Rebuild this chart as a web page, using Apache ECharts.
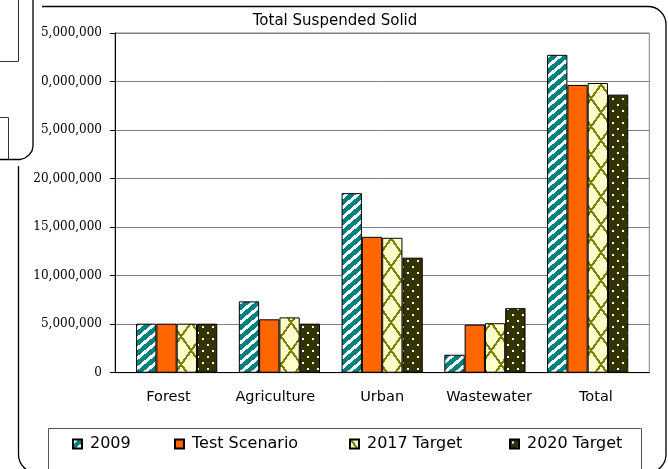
<!DOCTYPE html>
<html>
<head>
<meta charset="utf-8">
<script src="https://cdn.jsdelivr.net/npm/echarts@6/dist/echarts.min.js"></script>
<style>html,body{margin:0;padding:0;background:#fff;}#c{width:668px;height:469px;}</style>
</head>
<body>
<div id="c"></div>
<script>
const categories = ['Forest', 'Agriculture', 'Urban', 'Wastewater', 'Total'];
const seriesNames = ['2009', 'Test Scenario', '2017 Target', '2020 Target'];
const values2009 = [5050000, 7350000, 18500000, 1850000, 32750000];
const valuesTest = [5050000, 5500000, 14000000, 4950000, 29650000];
const values2017 = [5050000, 5700000, 13900000, 5100000, 29850000];
const values2020 = [5050000, 5050000, 11850000, 6650000, 28650000];
const yTicks = [0, 5000000, 10000000, 15000000, 20000000, 25000000, 30000000, 35000000];
const titleText = 'Total Suspended Solid';

function makePattern(w, h, bg, fg, fn) {
  const c = document.createElement('canvas');
  c.width = w; c.height = h;
  const ctx = c.getContext('2d');
  ctx.fillStyle = bg; ctx.fillRect(0, 0, w, h);
  ctx.fillStyle = fg;
  for (let y = 0; y < h; y++) for (let x = 0; x < w; x++) if (fn(x, y)) ctx.fillRect(x, y, 1, 1);
  return { image: c, repeat: 'repeat' };
}
const mod = (a, m) => ((a % m) + m) % m;
const pat2009 = makePattern(12, 10, '#008080', '#ffffff', (x, y) => mod(Math.floor(x * 10 / 12) + y, 10) < 4);
const pat2017 = makePattern(20, 28, '#FFFFCC', '#808000', (x, y) => {
  const a = mod(x - y * 20 / 28, 20), b = mod(x + y * 20 / 28, 20);
  return a < 2 || a > 19.3 || b < 2 || b > 19.3;
});
const pat2020 = makePattern(10, 12, '#333300', '#ffffff', (x, y) =>
  (x >= 2 && x < 4 && y >= 2 && y < 4) || (x >= 7 && x < 9 && y >= 8 && y < 10));
const fills = [pat2009, '#FF6600', pat2017, pat2020];
const data = [values2009, valuesTest, values2017, values2020];

const sans = 'DejaVu Sans';
const serif = 'DejaVu Serif';
const chart = echarts.init(document.getElementById('c'), null, { renderer: 'canvas' });

const legendLefts = [72, 174, 349, 509];
const option = {
  animation: false,
  backgroundColor: '#ffffff',
  title: {
    text: titleText, left: 335, top: 14, textAlign: 'center', padding: 0,
    textStyle: { fontFamily: sans, fontSize: 15, fontWeight: 'normal', color: '#000' }
  },
  legend: seriesNames.map((n, i) => ({
    data: [n], left: legendLefts[i], top: 436, padding: 0, itemWidth: 9, itemHeight: 9, icon: 'rect',
    textStyle: { fontFamily: sans, fontSize: 16, color: '#000', padding: [0, 0, 0, 3] }
  })),
  grid: [
    { left: 115, top: 33, width: 534.3, height: 339.7, show: true, borderColor: '#808080', borderWidth: 1, backgroundColor: 'transparent' },
    { left: 125.3, top: 33, width: 513.75, height: 339.7 }
  ],
  xAxis: [
    { type: 'category', gridIndex: 0, data: categories,
      axisLine: { lineStyle: { color: '#000', width: 1 } }, axisTick: { show: false },
      axisLabel: { interval: 0, hideOverlap: false, fontFamily: sans, fontSize: 14.5, color: '#000', margin: 17 } },
    { type: 'category', gridIndex: 1, data: categories, show: false }
  ],
  yAxis: [
    { type: 'value', gridIndex: 0, min: yTicks[0], max: yTicks[yTicks.length - 1], interval: yTicks[1] - yTicks[0],
      axisLine: { show: true, lineStyle: { color: '#000', width: 1 } },
      axisTick: { show: true, length: 5, lineStyle: { color: '#000' } },
      splitLine: { lineStyle: { color: '#808080', width: 1 } },
      axisLabel: { fontFamily: serif, fontSize: 12, color: '#000', margin: 13,
        formatter: v => v.toString().replace(/\B(?=(\d{3})+(?!\d))/g, ',') } },
    { type: 'value', gridIndex: 1, min: yTicks[0], max: yTicks[yTicks.length - 1], show: false, splitLine: { show: false } }
  ],
  series: seriesNames.map((n, i) => ({
    name: n, type: 'bar', xAxisIndex: 1, yAxisIndex: 1, data: data[i],
    barGap: '0%', barCategoryGap: '21%',
    itemStyle: { color: fills[i], borderColor: '#000', borderWidth: 1 }
  })),
  graphic: [
    { type: 'rect', z: 100, shape: { x: 18.5, y: 6.5, width: 647.5, height: 466, r: 18 },
      style: { fill: 'none', stroke: '#000', lineWidth: 1.3 } },
    { type: 'rect', z: 100, shape: { x: 48.5, y: 428.5, width: 593, height: 60 },
      style: { fill: 'none', stroke: '#555', lineWidth: 1 } },
    { type: 'rect', z: 101, shape: { x: 0, y: 0, width: 42, height: 166 },
      style: { fill: '#fff', stroke: 'none' } },
    { type: 'polyline', z: 102, shape: { points: [[33, 0], [33, 146], [32, 151], [29, 155], [25, 158], [20, 159.5], [0, 159.5]] },
      style: { stroke: '#000', lineWidth: 1.3, fill: 'none' } },
    { type: 'polyline', z: 102, shape: { points: [[18.5, 0], [18.5, 61.5], [0, 61.5]] },
      style: { stroke: '#333', lineWidth: 1, fill: 'none' } },
    { type: 'polyline', z: 102, shape: { points: [[0, 117.5], [8.5, 117.5], [8.5, 159.5]] },
      style: { stroke: '#333', lineWidth: 1, fill: 'none' } }
  ]
};
chart.setOption(option);
</script>
</body>
</html>
